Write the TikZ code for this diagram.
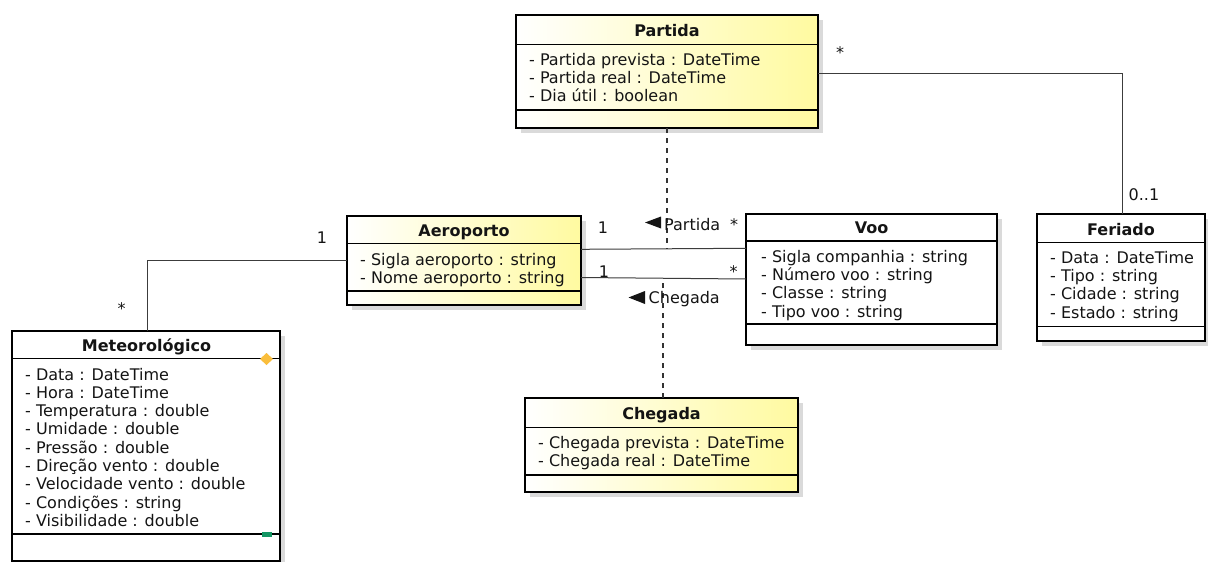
\documentclass[tikz,border=0pt]{standalone}
\usepackage{fontspec}
\setmainfont{DejaVu Sans}
\usetikzlibrary{shadows}

\definecolor{uyellow}{RGB}{255,250,160}
\definecolor{shadowgray}{RGB}{218,218,218}
\definecolor{wire}{RGB}{60,60,60}
\definecolor{ink}{RGB}{20,20,20}
\definecolor{stereoorange}{RGB}{250,190,60}
\definecolor{opgreen}{RGB}{20,150,100}

\newcommand\umlfont{\fontsize{16}{18.25}\selectfont}

\tikzset{
  classbox/.style={draw=black, line width=2.2pt, inner sep=0pt, outer sep=0pt,
    anchor=north west,
    general shadow={fill=shadowgray, shadow xshift=5pt, shadow yshift=-5pt}},
  yellowclass/.style={classbox, left color=white, right color=uyellow},
  whiteclass/.style={classbox, fill=white},
  compline/.style={draw=black, line width=1.1pt},
  classtitle/.style={font=\umlfont\bfseries, text=ink, inner sep=0pt, anchor=base},
  attr/.style={font=\umlfont, text=ink, inner sep=0pt, anchor=base west},
  mult/.style={font=\umlfont, text=ink, inner sep=0pt, anchor=base},
  assoc/.style={draw=wire, line width=1pt},
  assocclass/.style={draw=black!80, line width=1.1pt, dash pattern=on 5pt off 5pt},
}

\begin{document}
\begin{tikzpicture}[x=1pt, y=-1pt]
\clip (0,0) rectangle (1208,562);
\fill[white] (0,0) rectangle (1208,562);

% points where the association classes meet their associations
\coordinate (partidaLink) at (667,248.8);
\coordinate (chegadaLink) at (663,278.3);

% ---------- Partida ----------
\node[yellowclass, minimum width=302pt, minimum height=113pt] (partida) at (516,15) {};
\draw[compline] (partida.west |- 0,44.5) -- (partida.east |- 0,44.5);
\draw[compline] (partida.west |- 0,110) -- (partida.east |- 0,110);
\node[classtitle] (partida-t) at (667,36.7) {Partida};
\foreach \t [count=\i from 0] in {- Partida prevista : DateTime, - Partida real : DateTime, - Dia útil : boolean}
  \node[attr] (partida-a\i) at (529,{65+18.25*\i}) {\t};

% ---------- Aeroporto ----------
\node[yellowclass, minimum width=234pt, minimum height=89pt] (aeroporto) at (347,216) {};
\draw[compline] (aeroporto.west |- 0,243.3) -- (aeroporto.east |- 0,243.3);
\draw[compline] (aeroporto.west |- 0,291) -- (aeroporto.east |- 0,291);
\node[classtitle] (aeroporto-t) at (464,236.7) {Aeroporto};
\foreach \t [count=\i from 0] in {- Sigla aeroporto : string, - Nome aeroporto : string}
  \node[attr] (aeroporto-a\i) at (360,{265+18.25*\i}) {\t};

% ---------- Voo ----------
\node[whiteclass, minimum width=251pt, minimum height=131pt] (voo) at (746,214) {};
\draw[compline] (voo.west |- 0,241) -- (voo.east |- 0,241);
\draw[compline] (voo.west |- 0,324) -- (voo.east |- 0,324);
\node[classtitle] (voo-t) at (871.5,233.3) {Voo};
\foreach \t [count=\i from 0] in {- Sigla companhia : string, - Número voo : string, - Classe : string, - Tipo voo : string}
  \node[attr] (voo-a\i) at (761,{262.3+18.25*\i}) {\t};

% ---------- Feriado ----------
\node[whiteclass, minimum width=168pt, minimum height=127pt] (feriado) at (1037,214) {};
\draw[compline] (feriado.west |- 0,242.7) -- (feriado.east |- 0,242.7);
\draw[compline] (feriado.west |- 0,326.7) -- (feriado.east |- 0,326.7);
\node[classtitle] (feriado-t) at (1121,235) {Feriado};
\foreach \t [count=\i from 0] in {- Data : DateTime, - Tipo : string, - Cidade : string, - Estado : string}
  \node[attr] (feriado-a\i) at (1050,{263.3+18.25*\i}) {\t};

% ---------- Meteorológico ----------
\node[whiteclass, minimum width=268pt, minimum height=230pt] (meteo) at (12,331) {};
\draw[compline] (meteo.west |- 0,358.3) -- (meteo.east |- 0,358.3);
\draw[compline] (meteo.west |- 0,534) -- (meteo.east |- 0,534);
\node[classtitle] (meteo-t) at (146.5,351) {Meteorológico};
\foreach \t [count=\i from 0] in {- Data : DateTime, - Hora : DateTime, - Temperatura : double, - Umidade : double, - Pressão : double, - Direção vento : double, - Velocidade vento : double, - Condições : string, - Visibilidade : double}
  \node[attr] (meteo-a\i) at (25,{380+18.3*\i}) {\t};
% compartment markers
\fill[stereoorange] (266.5,353) -- (273,359) -- (266.5,365) -- (260,359) -- cycle;
\fill[opgreen] (262,532) rectangle (272,536.5);

% ---------- Chegada ----------
\node[yellowclass, minimum width=273pt, minimum height=94pt] (chegada) at (525,398) {};
\draw[compline] (chegada.west |- 0,427.7) -- (chegada.east |- 0,427.7);
\draw[compline] (chegada.west |- 0,475) -- (chegada.east |- 0,475);
\node[classtitle] (chegada-t) at (661.5,419.3) {Chegada};
\foreach \t [count=\i from 0] in {- Chegada prevista : DateTime, - Chegada real : DateTime}
  \node[attr] (chegada-a\i) at (538,{448.3+18.25*\i}) {\t};

% ---------- associations ----------
\draw[assoc] (partida.east |- 0,73) -| (feriado.north -| 1122,0);
\draw[assoc] (aeroporto.west |- 0,260) -| (meteo.north -| 147,0);
\draw[assoc] (aeroporto.east |- 0,249.3) -- (voo.west |- 0,248.3);
\draw[assoc] (aeroporto.east |- 0,277.5) -- (voo.west |- 0,279);

% association classes
\draw[assocclass] (partida.south -| 667,0) -- (partidaLink);
\draw[assocclass] (chegada.north -| 663,0) -- (chegadaLink);

% association names with reading direction
\fill[ink] (661,216.5) -- (661,228.5) -- (645,222.5) -- cycle;
\node[attr] (partida-name) at (664,230) {Partida};
\fill[ink] (645,291) -- (645,304) -- (628.5,297.5) -- cycle;
\node[attr] (chegada-name) at (648.5,303.3) {Chegada};

% multiplicities
\node[mult] (m-pf1) at (840,58) {*};
\node[attr] (m-pf2) at (1128.5,200.7) {0..1};
\node[mult] (m-am1) at (322,243) {1};
\node[mult] (m-am2) at (121.5,314) {*};
\node[mult] (m-av1) at (603,233) {1};
\node[mult] (m-av2) at (734,230) {*};
\node[mult] (m-av3) at (604,277) {1};
\node[mult] (m-av4) at (733.5,277.5) {*};
\end{tikzpicture}
\end{document}
